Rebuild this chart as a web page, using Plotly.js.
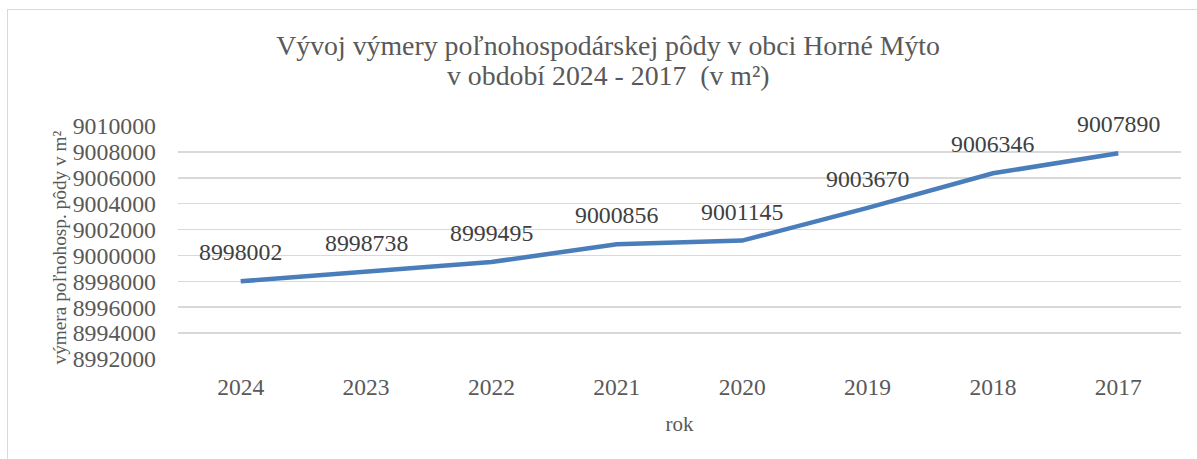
<!DOCTYPE html>
<html><head><meta charset="utf-8">
<script src="https://cdn.plot.ly/plotly-3.0.1.min.js"></script>
<style>
html,body{margin:0;padding:0;background:#fff;overflow:hidden;}
#frame{position:absolute;left:7px;top:9px;width:1400px;height:600px;border-left:1.5px solid #d9d9d9;border-top:1.5px solid #d9d9d9;}
#chart{position:absolute;left:0;top:0;width:1197px;height:459px;}
</style></head>
<body>
<div id="frame"></div>
<div id="chart"></div>
<script>
const years = ["2024","2023","2022","2021","2020","2019","2018","2017"];
const area = [8998002, 8998738, 8999495, 9000856, 9001145, 9003670, 9006346, 9007890];
const yTicks = [8992000, 8994000, 8996000, 8998000, 9000000, 9002000, 9004000, 9006000, 9008000, 9010000];
const titleLine1 = "Vývoj výmery poľnohospodárskej pôdy v obci Horné Mýto";
const titleLine2 = "v období 2024 - 2017  (v m²)";
const yTitle = "výmera poľnohosp. pôdy v m²";
const xTitle = "rok";

const font = "'Liberation Serif', 'Times New Roman', serif";
const gray = "#595959";

const annotations = years.map((y, i) => ({
  x: i, y: area[i], xref: "x", yref: "y",
  text: String(area[i]), showarrow: false,
  yshift: 29, font: {family: font, size: 23.8, color: "#404040"}
}));
annotations.push({
  text: yTitle, xref: "paper", yref: "paper",
  x: 0, y: 0.5, xanchor: "center", yanchor: "middle",
  xshift: -119, yshift: -5, textangle: -90, showarrow: false,
  font: {family: font, size: 19.3, color: gray}
});
annotations.push({
  text: titleLine2, xref: "paper", yref: "paper",
  x: (608 - 178) / 1003, y: (359 - 75) / 233, xanchor: "center", yanchor: "middle", showarrow: false,
  font: {family: font, size: 27.8, color: gray}
});

Plotly.newPlot("chart", [{
  x: years, y: area, type: "scatter", mode: "lines",
  line: {color: "#4a7ebb", width: 4.5},
  hoverinfo: "skip"
}], {
  width: 1197, height: 459,
  margin: {l: 178, r: 16, t: 126, b: 100},
  paper_bgcolor: "rgba(0,0,0,0)", plot_bgcolor: "rgba(0,0,0,0)",
  showlegend: false,
  title: {
    text: titleLine1,
    x: 0.508, xanchor: "center", y: 1 - 45 / 459, yanchor: "middle", yref: "container",
    font: {family: font, size: 27.8, color: gray}
  },
  xaxis: {
    type: "category", range: [-0.5, 7.5],
    showgrid: false, zeroline: false, showline: false, ticks: "",
    ticklabelstandoff: 11,
    tickfont: {family: font, size: 23.5, color: gray},
    title: {text: xTitle, font: {family: font, size: 21, color: gray}, standoff: 17}
  },
  yaxis: {
    range: [8992000, 9010000], tickvals: yTicks, ticktext: yTicks.map(String),
    showgrid: true, gridcolor: "#d9d9d9", gridwidth: 1.5, zeroline: false, showline: false,
    ticks: "", ticklabelstandoff: 21,
    tickfont: {family: font, size: 23.8, color: gray}
  },
  annotations: annotations
}, {staticPlot: true});
</script>
</body></html>
